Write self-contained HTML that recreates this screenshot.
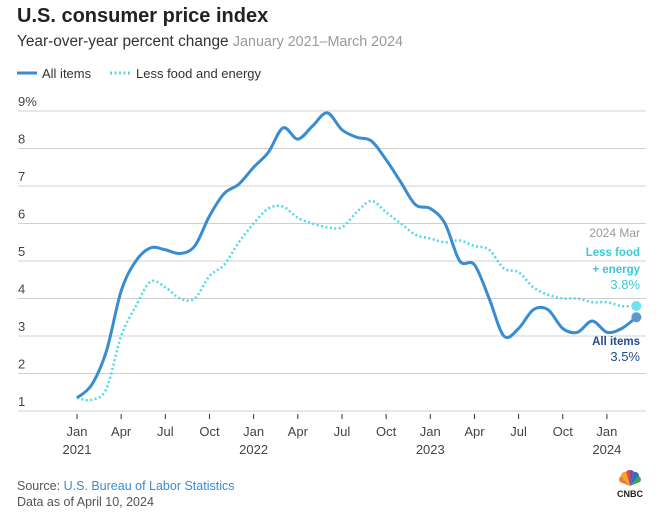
<!DOCTYPE html>
<html><head><meta charset="utf-8"><style>
body{margin:0;background:#fff;font-family:"Liberation Sans",sans-serif;}
#wrap{position:relative;width:669px;height:520px;overflow:hidden}
</style></head><body>
<div id="wrap">
<svg id="chart" width="669" height="520" xmlns="http://www.w3.org/2000/svg">
<text x="17" y="22" font-size="20" font-weight="bold" fill="#222">U.S. consumer price index</text>
<text x="17" y="46" font-size="15.4" fill="#333">Year-over-year percent change <tspan fill="#999" font-size="14.3">January 2021–March 2024</tspan></text>
<g><line x1="17" y1="73" x2="37" y2="73" stroke="#3a8cd0" stroke-width="3"/><text x="42" y="78" font-size="13" fill="#333">All items</text></g>
<g><line x1="110" y1="73" x2="130" y2="73" stroke="#4fd9ec" stroke-width="3" stroke-dasharray="2,2.5"/><text x="136" y="78" font-size="13" fill="#333">Less food and energy</text></g>
<g id="grid"></g><g id="xaxis"></g><g id="series"></g>
<text x="640" y="237" font-size="12" fill="#999" text-anchor="end">2024 Mar</text>
<text x="640" y="256" font-size="11.5" font-weight="bold" fill="#3cc7d6" text-anchor="end">Less food</text>
<text x="640" y="273" font-size="11.5" font-weight="bold" fill="#3cc7d6" text-anchor="end">+ energy</text>
<text x="640" y="289" font-size="13" fill="#3cc7d6" text-anchor="end">3.8%</text>
<text x="640" y="345" font-size="11.5" font-weight="bold" fill="#1e4c8c" text-anchor="end">All items</text>
<text x="640" y="361" font-size="13" fill="#1e4c8c" text-anchor="end">3.5%</text>
<text x="17" y="490" font-size="12.5" fill="#555">Source: <tspan fill="#3a8cd0">U.S. Bureau of Labor Statistics</tspan></text>
<text x="17" y="506" font-size="12.5" fill="#555">Data as of April 10, 2024</text>
<g transform="translate(630,486)">
<path d="M0,0 L-9,-10 A4,4 0 0 1 -4,-14Z" fill="#f5a623"/><path d="M0,0 L-4,-14 A4,4 0 0 1 0,-16Z" fill="#e04b3c"/>
<path d="M0,0 L0,-16 A4,4 0 0 1 4,-14Z" fill="#7b4fa0"/><path d="M0,0 L4,-14 A4,4 0 0 1 9,-10Z" fill="#2f6fbf"/>
<path d="M0,0 L9,-10 A4,4 0 0 1 10,-4Z" fill="#3bab49"/><path d="M0,0 L-9,-10 A4,4 0 0 0 -10,-4Z" fill="#f07b2a"/>
<text x="0" y="11" font-size="9" font-weight="bold" fill="#222" text-anchor="middle">CNBC</text></g>
</svg>
<script>
const months = [];
for (let i = 0; i < 39; i++) months.push(i);
const allItems = [1.35,1.7,2.6,4.2,5.0,5.35,5.3,5.2,5.4,6.2,6.8,7.05,7.5,7.9,8.55,8.25,8.6,8.95,8.5,8.3,8.2,7.7,7.1,6.5,6.4,6.0,5.0,4.9,4.0,3.0,3.2,3.7,3.7,3.2,3.1,3.4,3.1,3.2,3.5];
const core = [1.35,1.3,1.6,3.0,3.8,4.45,4.3,4.0,4.0,4.6,4.9,5.5,6.0,6.4,6.45,6.15,6.0,5.9,5.9,6.3,6.6,6.3,6.0,5.7,5.6,5.5,5.55,5.4,5.3,4.8,4.7,4.3,4.1,4.0,4.0,3.9,3.9,3.8,3.8];
const yTicks = [1,2,3,4,5,6,7,8,9];
const xTickMonths = [0,3,6,9,12,15,18,21,24,27,30,33,36];
const xTickLabels = ["Jan","Apr","Jul","Oct","Jan","Apr","Jul","Oct","Jan","Apr","Jul","Oct","Jan"];
const yearLabels = ["2021","2022","2023","2024"];
const yearMonths = [0,12,24,36];
const NS = "http://www.w3.org/2000/svg";
const xS = m => 77 + m * 14.72;
const yS = v => 411 - (v - 1) * 37.5;
function mk(tag, attrs, parent){const e=document.createElementNS(NS,tag);for(const k in attrs)e.setAttribute(k,attrs[k]);parent.appendChild(e);return e;}
const grid = document.getElementById('grid');
yTicks.forEach(v=>{
  const l = mk('line',{x1:18,x2:646,y1:yS(v),y2:yS(v),stroke:'#d0d0d0','stroke-width':1},grid);
  
  
  const t = mk('text',{x:18,y:yS(v)-5,'font-size':13,fill:'#444'},grid);
  t.textContent = v===9 ? '9%' : String(v);
  
  
});
const xa = document.getElementById('xaxis');
xTickMonths.forEach((m,i)=>{
  const l = mk('line',{x1:xS(m),x2:xS(m),y1:414,y2:419,stroke:'#333','stroke-width':1},xa);
  
  
  const t = mk('text',{x:xS(m),y:436,'font-size':13,fill:'#444','text-anchor':'middle'},xa);
  t.textContent = xTickLabels[i];
  
  
});
yearMonths.forEach((m,i)=>{
  const t = mk('text',{x:xS(m),y:454,'font-size':13,fill:'#444','text-anchor':'middle'},xa);
  t.textContent = yearLabels[i];
  
  
});
function smoothPath(vals){
  const p = vals.map((v,i)=>[xS(months[i]),yS(v)]);
  let d = `M${p[0][0]},${p[0][1]}`;
  for(let i=0;i<p.length-1;i++){
    const p0=p[i-1]||p[i], p1=p[i], p2=p[i+1], p3=p[i+2]||p2;
    const c1=[p1[0]+(p2[0]-p0[0])/6, p1[1]+(p2[1]-p0[1])/6];
    const c2=[p2[0]-(p3[0]-p1[0])/6, p2[1]-(p3[1]-p1[1])/6];
    d += ` C${c1[0]},${c1[1]} ${c2[0]},${c2[1]} ${p2[0]},${p2[1]}`;
  }
  return d;
}
const sg = document.getElementById('series');
const cl = mk('path',{d:smoothPath(core),fill:'none',stroke:'#4fd9ec','stroke-width':2.5,'stroke-dasharray':'2,2.5'},sg);


const al = mk('path',{d:smoothPath(allItems),fill:'none',stroke:'#3a8cd0','stroke-width':3},sg);


const last = months.length-1;
const cd = mk('circle',{cx:xS(months[last]),cy:yS(core[last]),r:5,fill:'#6fe2f0'},sg);


const ad = mk('circle',{cx:xS(months[last]),cy:yS(allItems[last]),r:5,fill:'#5b95cc'},sg);


</script>
</div></body></html>
